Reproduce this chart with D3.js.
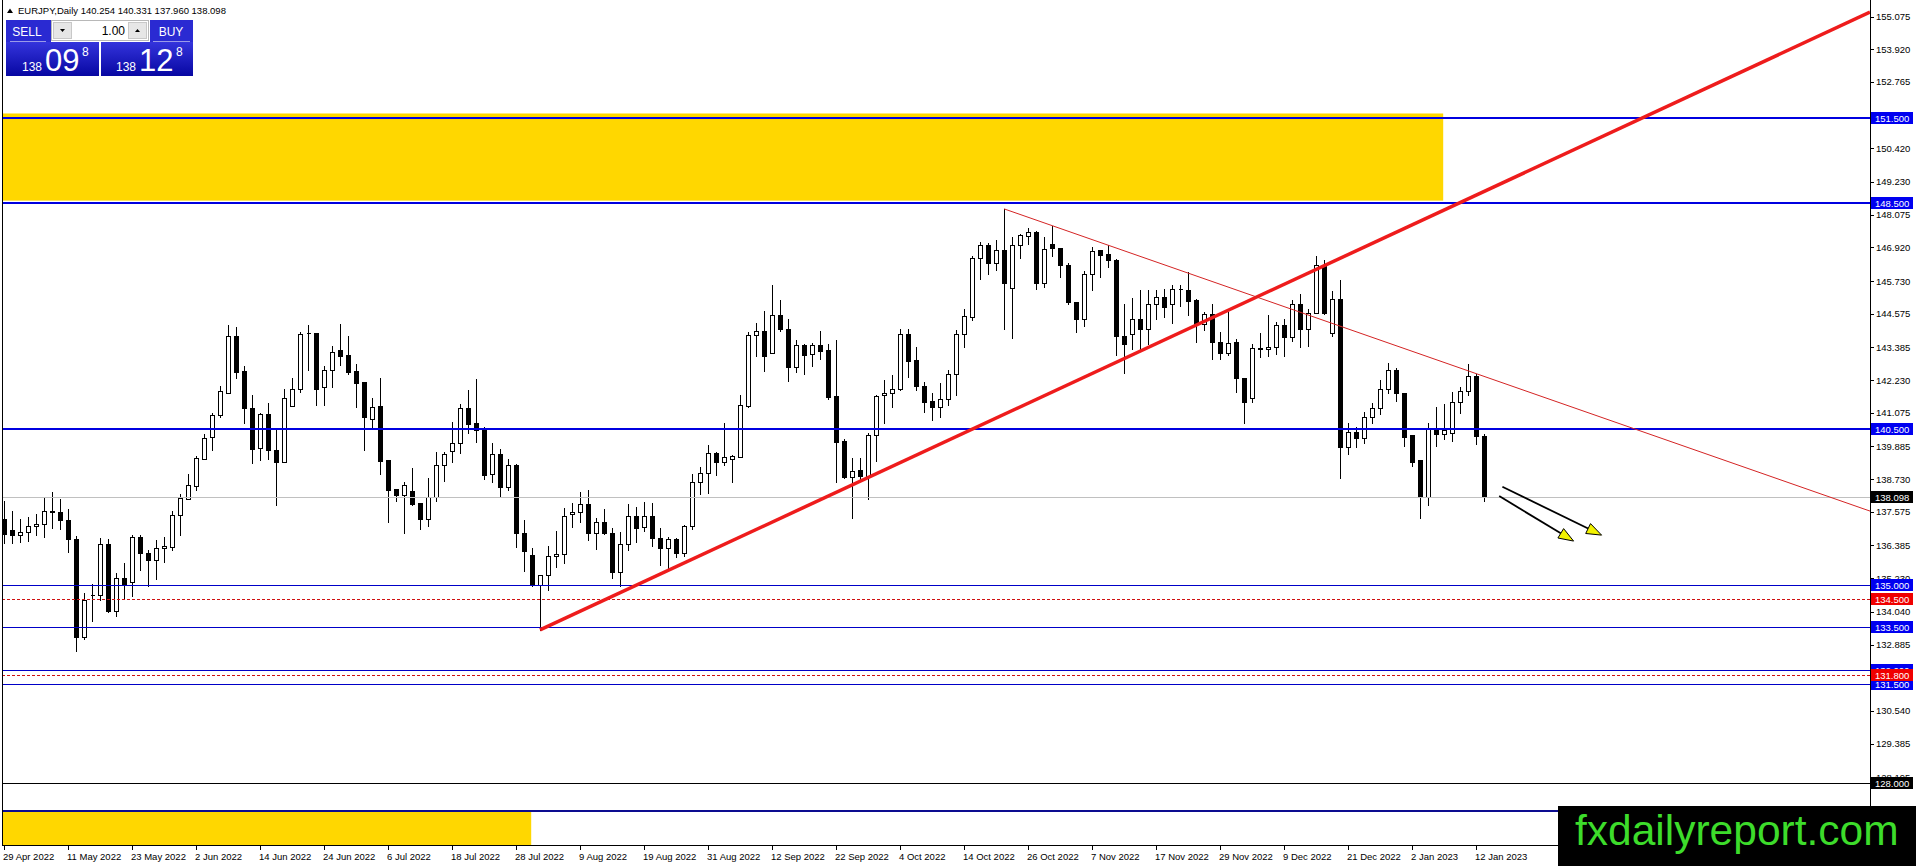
<!DOCTYPE html>
<html>
<head>
<meta charset="utf-8">
<script src="https://cdn.jsdelivr.net/npm/d3@7"></script>
<style>
  html, body { margin: 0; padding: 0; background: #fff; }
  svg { display: block; }
  text { font-family: "Liberation Sans", Arial, sans-serif; }
</style>
</head>
<body>
<svg id="chart" width="1916" height="866"></svg>
<script>
'use strict';

// EURJPY daily bars, 29 Apr 2022 .. 13 Jan 2023
const opens = [
  137.32, 136.94, 136.74, 136.85, 137.06, 137.14, 137.60, 137.57, 137.29, 136.61,
  133.14, 134.64, 134.65, 136.43, 134.06, 135.24, 135.08, 136.68, 136.12, 135.86,
  136.28, 136.32, 137.46, 138.04, 138.50, 139.45, 140.21, 140.98, 141.79, 143.78,
  142.54, 141.24, 139.82, 141.02, 139.75, 139.35, 141.33, 141.91, 143.91, 143.91,
  141.97, 142.57, 143.29, 143.11, 142.54, 142.16, 140.84, 141.31, 139.41, 138.37,
  138.16, 138.30, 137.88, 137.32, 138.09, 139.22, 139.74, 140.00, 141.26, 140.70,
  140.50, 138.90, 139.62, 138.44, 139.23, 136.82, 136.06, 134.99, 135.35, 136.00,
  136.08, 137.50, 137.56, 137.84, 136.82, 137.23, 136.82, 135.44, 136.43, 137.41,
  137.02, 137.41, 136.65, 136.29, 136.61, 136.12, 137.09, 138.62, 138.94, 139.64,
  139.35, 139.43, 139.52, 141.32, 143.81, 143.97, 143.17, 144.52, 144.05, 142.70,
  143.46, 143.14, 143.46, 143.29, 141.66, 140.09, 138.80, 139.05, 138.84, 140.29,
  141.69, 141.76, 141.91, 143.84, 142.93, 142.03, 141.48, 141.29, 141.55, 142.46,
  143.84, 144.46, 146.55, 147.02, 146.38, 146.83, 145.49, 147.01, 147.33, 147.46,
  145.66, 147.05, 146.90, 146.31, 144.99, 144.40, 145.96, 146.81, 146.67, 146.48,
  143.79, 143.84, 144.38, 144.05, 144.90, 145.17, 144.91, 145.46, 145.42, 145.05,
  144.20, 144.58, 143.56, 143.20, 143.56, 142.29, 141.61, 143.38, 143.34, 143.40,
  144.19, 143.76, 144.93, 144.05, 144.61, 146.31, 143.91, 145.11, 139.85, 140.38,
  140.17, 140.93, 141.23, 141.93, 142.60, 141.76, 140.29, 139.41, 138.11, 140.55,
  140.31, 140.35, 141.44, 141.85, 142.39, 140.254
];
const highs = [
  137.94, 137.59, 137.32, 137.39, 137.50, 138.09, 138.27, 138.02, 137.68, 136.73,
  134.71, 135.02, 136.65, 136.61, 135.41, 135.76, 136.76, 136.74, 136.21, 136.59,
  136.68, 137.60, 138.21, 138.91, 139.56, 140.31, 141.08, 142.02, 144.17, 144.11,
  142.72, 141.70, 141.05, 141.41, 140.46, 141.91, 142.29, 143.93, 144.17, 143.91,
  142.72, 143.43, 144.20, 143.78, 142.79, 142.16, 141.58, 142.29, 139.41, 138.37,
  138.61, 139.13, 137.88, 138.76, 139.68, 139.68, 140.74, 141.37, 141.88, 142.26,
  140.56, 140.00, 139.78, 139.44, 139.27, 137.29, 136.29, 135.35, 136.38, 136.88,
  137.70, 137.88, 138.29, 138.35, 137.35, 137.67, 137.00, 136.85, 137.84, 137.76,
  137.92, 137.88, 137.00, 136.70, 136.65, 137.12, 138.91, 139.15, 139.94, 139.67,
  140.70, 139.58, 141.70, 143.93, 144.25, 144.67, 145.58, 145.07, 144.40, 143.64,
  143.50, 143.54, 143.96, 143.52, 143.64, 140.15, 139.47, 139.47, 140.35, 141.70,
  142.23, 142.40, 144.03, 144.03, 143.40, 142.15, 141.78, 142.13, 142.58, 143.99,
  144.75, 146.63, 147.10, 147.08, 147.19, 148.28, 147.30, 147.40, 147.61, 147.49,
  147.28, 147.66, 146.90, 146.38, 144.99, 146.07, 146.93, 146.83, 146.99, 146.52,
  144.93, 145.14, 145.40, 145.42, 145.40, 145.46, 145.58, 145.58, 146.05, 145.11,
  144.64, 144.93, 143.93, 144.64, 143.67, 142.29, 143.52, 143.90, 144.52, 144.28,
  144.37, 145.05, 145.28, 144.73, 146.63, 146.48, 145.38, 145.75, 140.70, 140.58,
  141.11, 141.43, 142.23, 142.85, 142.64, 141.79, 140.29, 139.41, 140.72, 141.29,
  141.38, 141.82, 141.97, 142.78, 142.44, 140.331
];
const lows = [
  136.47, 136.47, 136.50, 136.56, 136.76, 136.70, 137.01, 136.98, 136.14, 132.65,
  133.08, 133.71, 134.47, 134.03, 133.88, 134.53, 134.61, 135.51, 134.97, 135.20,
  135.80, 136.21, 136.74, 138.02, 138.33, 139.43, 139.76, 140.91, 141.79, 142.29,
  140.72, 139.31, 139.41, 139.45, 137.80, 139.35, 141.33, 141.82, 142.60, 141.35,
  141.35, 141.97, 142.76, 142.44, 141.29, 139.76, 140.52, 138.91, 137.21, 137.94,
  136.82, 137.82, 136.96, 137.06, 137.94, 138.68, 139.33, 139.64, 140.37, 140.05,
  138.73, 138.64, 138.08, 138.35, 136.33, 135.49, 134.97, 133.40, 134.82, 135.62,
  135.76, 137.03, 137.21, 136.59, 136.26, 136.80, 135.24, 134.94, 136.23, 136.49,
  136.90, 136.38, 135.71, 135.53, 135.98, 136.02, 136.96, 138.20, 138.23, 138.88,
  139.23, 138.62, 139.50, 141.29, 143.07, 142.56, 143.17, 143.97, 142.20, 142.50,
  142.43, 142.72, 142.96, 141.55, 138.64, 138.76, 137.35, 138.73, 138.02, 139.38,
  140.72, 141.29, 141.87, 142.35, 141.87, 141.11, 140.82, 140.93, 141.35, 141.70,
  143.40, 144.34, 145.81, 145.99, 146.11, 144.05, 143.70, 146.55, 147.05, 145.46,
  145.52, 146.61, 145.87, 144.93, 143.93, 144.14, 145.42, 145.87, 146.22, 143.11,
  142.49, 143.34, 143.34, 143.52, 144.37, 144.46, 144.25, 144.84, 144.52, 143.58,
  143.99, 142.96, 142.96, 143.11, 141.82, 140.70, 141.46, 143.03, 143.09, 143.14,
  143.07, 143.60, 143.40, 143.43, 144.60, 144.58, 143.79, 138.76, 139.61, 139.88,
  140.00, 140.72, 141.03, 141.76, 141.50, 139.90, 139.20, 137.35, 137.82, 139.91,
  140.15, 140.09, 141.05, 141.70, 139.96, 137.960
];
const closes = [
  136.80, 136.74, 136.86, 137.08, 137.14, 137.61, 137.57, 137.27, 136.61, 133.14,
  134.47, 134.62, 136.43, 134.06, 135.24, 135.04, 136.67, 136.12, 135.86, 136.29,
  136.38, 137.46, 138.06, 138.51, 139.47, 140.18, 140.98, 141.84, 143.78, 142.52,
  141.25, 139.81, 141.02, 139.76, 139.35, 141.58, 141.92, 143.87, 143.88, 141.92,
  142.58, 143.23, 143.09, 142.52, 142.13, 140.93, 141.29, 139.38, 138.33, 138.16,
  138.51, 137.86, 137.32, 138.09, 139.22, 139.61, 140.00, 141.26, 140.69, 140.46,
  138.86, 139.61, 138.44, 139.23, 136.82, 136.18, 134.99, 135.33, 136.00, 136.08,
  137.41, 137.57, 137.84, 136.82, 137.23, 136.82, 135.44, 136.43, 137.41, 136.99,
  137.41, 136.65, 136.29, 136.61, 136.12, 137.09, 138.62, 138.94, 139.64, 139.35,
  139.50, 139.55, 141.35, 143.81, 143.97, 143.09, 144.52, 144.05, 142.70, 143.46,
  143.11, 143.46, 143.25, 141.62, 140.05, 138.80, 139.03, 138.84, 140.29, 141.68,
  141.79, 141.93, 143.84, 142.91, 142.03, 141.46, 141.29, 141.55, 142.46, 143.84,
  144.50, 146.55, 147.02, 146.38, 146.83, 145.66, 147.01, 147.34, 147.46, 145.66,
  146.87, 146.89, 146.31, 144.99, 144.40, 145.99, 146.79, 146.66, 146.46, 143.79,
  143.52, 144.37, 144.05, 144.90, 145.17, 144.81, 145.46, 145.44, 145.02, 144.20,
  144.58, 143.56, 143.17, 143.54, 142.29, 141.46, 143.38, 143.34, 143.40, 144.19,
  143.76, 144.93, 144.05, 144.61, 146.31, 144.60, 145.11, 139.85, 140.38, 140.17,
  140.93, 141.23, 141.93, 142.60, 141.76, 140.23, 139.35, 138.11, 140.55, 140.31,
  140.46, 141.44, 141.85, 142.39, 140.25, 138.098
];

// time axis labels and the bar they sit on
const dateLabels = [
  '29 Apr 2022', '11 May 2022', '23 May 2022', '2 Jun 2022', '14 Jun 2022', '24 Jun 2022',
  '6 Jul 2022', '18 Jul 2022', '28 Jul 2022', '9 Aug 2022', '19 Aug 2022', '31 Aug 2022',
  '12 Sep 2022', '22 Sep 2022', '4 Oct 2022', '14 Oct 2022', '26 Oct 2022', '7 Nov 2022',
  '17 Nov 2022', '29 Nov 2022', '9 Dec 2022', '21 Dec 2022', '2 Jan 2023', '12 Jan 2023'
];
const dateTickBars = [0, 8, 16, 24, 32, 40, 48, 56, 64, 72, 80, 88, 96, 104, 112, 120,
  128, 136, 144, 152, 160, 168, 176, 184];

// price axis tick labels
const priceTicks = [155.075, 153.920, 152.765, 150.420, 149.230, 148.075, 146.920, 145.730,
  144.575, 143.385, 142.230, 141.075, 139.885, 138.730, 137.575, 136.385, 135.230, 134.040,
  132.885, 130.540, 129.385, 128.195];

// horizontal levels
const majorBlueLevels = [151.5, 148.5, 140.5];
const minorBlueLevels = [135.0, 133.5, 132.0, 131.5];
const redLevels = [134.5, 131.8];
const blackLevels = [128.0];
const bottomBlueLevel = 127.0;
const bidPrice = 138.098;

// shaded zones: [bar from, bar to] and [price top, price bottom]
const zoneBars = [[-0.25, 179.9], [-0.25, 65.9]];
const zonePrices = [[151.65, 148.57], [127.03, 125.80]];

// trend lines: [bar a, bar b] and [price a, price b]
const trendBars = [[67, 233.25], [125, 233.25]];
const trendPrices = [[133.40, 155.23], [148.28, 137.60]];

// projection arrows
const arrowBars = [[187.3, 199.7], [186.9, 196.2]];
const arrowPrices = [[138.46, 136.75], [138.13, 136.54]];

const quote = ['140.254', '140.331', '137.960', '138.098'];

// ---------------------------------------------------------------
const W = 1916, H = 866;
const plotL = 2, plotR = 1870, plotT = 0, plotB = 845;
const FONT = '"Liberation Sans", Arial, sans-serif';

const svg = d3.select('#chart');

const x = d3.scaleLinear().domain([-0.25, 233.25]).range([plotL, plotR]);
const y = d3.scaleLinear().domain([125.80, 155.66]).range([plotB, plotT]);

const crisp = v => Math.round(v) + 0.5;

svg.append('rect').attr('width', W).attr('height', H).attr('fill', '#fff');

svg.append('defs').append('clipPath').attr('id', 'plotclip')
  .append('rect')
  .attr('x', plotL).attr('y', plotT)
  .attr('width', plotR - plotL).attr('height', plotB - plotT);

const plot = svg.append('g').attr('clip-path', 'url(#plotclip)');

// zones (background)
plot.selectAll('rect.zone')
  .data(zoneBars)
  .enter().append('rect')
  .attr('class', 'zone')
  .attr('x', d => x(d[0]))
  .attr('width', d => x(d[1]) - x(d[0]))
  .attr('y', (d, i) => y(zonePrices[i][0]))
  .attr('height', (d, i) => y(zonePrices[i][1]) - y(zonePrices[i][0]))
  .attr('fill', '#ffd700');

// candles
const bars = d3.range(opens.length);
const candles = plot.append('g').attr('shape-rendering', 'crispEdges');

candles.selectAll('line.wick')
  .data(bars)
  .enter().append('line')
  .attr('class', 'wick')
  .attr('x1', i => Math.round(x(i)) + 0.5)
  .attr('x2', i => Math.round(x(i)) + 0.5)
  .attr('y1', i => Math.round(y(highs[i])))
  .attr('y2', i => Math.round(y(lows[i])) + 1)
  .attr('stroke', '#000')
  .attr('stroke-width', 1);

candles.selectAll('path.body')
  .data(bars)
  .enter().append('path')
  .attr('class', 'body')
  .attr('d', i => {
    const cx = Math.round(x(i));
    const top = crisp(y(Math.max(opens[i], closes[i])));
    const bot = crisp(y(Math.min(opens[i], closes[i])));
    const x0 = cx - 1.5, x1 = cx + 2.5;
    return 'M' + x0 + ',' + top + 'H' + x1 + 'V' + bot + 'H' + x0 + 'Z';
  })
  .attr('fill', i => closes[i] >= opens[i] ? '#fff' : '#000')
  .attr('stroke', '#000')
  .attr('stroke-width', 1);

// horizontal lines
function hline(level, color, width, dash) {
  const yy = width % 2 ? crisp(y(level)) : Math.round(y(level));
  plot.append('line')
    .attr('x1', plotL).attr('x2', plotR)
    .attr('y1', yy).attr('y2', yy)
    .attr('stroke', color)
    .attr('stroke-width', width)
    .attr('stroke-dasharray', dash || null)
    .attr('shape-rendering', 'crispEdges');
}
hline(bidPrice, '#c0c0c0', 1);
majorBlueLevels.forEach(l => hline(l, '#0000e0', 2));
minorBlueLevels.forEach(l => hline(l, '#0000c8', 1));
redLevels.forEach(l => hline(l, '#d01010', 1, '3,2'));
blackLevels.forEach(l => hline(l, '#000', 1));
hline(bottomBlueLevel, '#0c0c90', 2);

// trend lines
plot.selectAll('line.trend')
  .data(trendBars)
  .enter().append('line')
  .attr('class', 'trend')
  .attr('x1', d => x(d[0]))
  .attr('x2', d => x(d[1]))
  .attr('y1', (d, i) => y(trendPrices[i][0]))
  .attr('y2', (d, i) => y(trendPrices[i][1]))
  .attr('stroke', (d, i) => i === 0 ? '#ee1c1c' : '#d42424')
  .attr('stroke-width', (d, i) => i === 0 ? 3.5 : 1);

// arrows
const HEAD_LEN = 15, HEAD_HALF = 5.5;
arrowBars.forEach((b, i) => {
  const x0 = x(b[0]), y0 = y(arrowPrices[i][0]);
  const x1 = x(b[1]), y1 = y(arrowPrices[i][1]);
  const len = Math.hypot(x1 - x0, y1 - y0);
  const ux = (x1 - x0) / len, uy = (y1 - y0) / len;
  const bx = x1 - ux * HEAD_LEN, by = y1 - uy * HEAD_LEN;
  plot.append('line')
    .attr('x1', x0).attr('y1', y0).attr('x2', bx).attr('y2', by)
    .attr('stroke', '#000').attr('stroke-width', 1.8);
  plot.append('path')
    .attr('d', 'M' + x1 + ',' + y1 +
      'L' + (bx - uy * HEAD_HALF) + ',' + (by + ux * HEAD_HALF) +
      'L' + (bx + uy * HEAD_HALF) + ',' + (by - ux * HEAD_HALF) + 'Z')
    .attr('fill', '#f2f200')
    .attr('stroke', '#000')
    .attr('stroke-width', 1)
    .attr('stroke-linejoin', 'miter');
});

// frame
const frame = svg.append('g').attr('shape-rendering', 'crispEdges').attr('stroke', '#000');
frame.append('line').attr('x1', 2.5).attr('x2', 2.5).attr('y1', 0).attr('y2', plotB + 1);
frame.append('line').attr('x1', plotR + 0.5).attr('x2', plotR + 0.5).attr('y1', 0).attr('y2', H);
frame.append('line').attr('x1', 2).attr('x2', plotR + 1).attr('y1', plotB + 0.5).attr('y2', plotB + 0.5);

// time axis
const timeAxis = svg.append('g');
timeAxis.selectAll('line')
  .data(dateTickBars)
  .enter().append('line')
  .attr('x1', d => Math.round(x(d)) + 0.5)
  .attr('x2', d => Math.round(x(d)) + 0.5)
  .attr('y1', plotB + 1).attr('y2', plotB + 5)
  .attr('stroke', '#000')
  .attr('shape-rendering', 'crispEdges');
timeAxis.selectAll('text')
  .data(dateTickBars)
  .enter().append('text')
  .attr('x', d => Math.round(x(d)) - 1)
  .attr('y', 860)
  .attr('font-size', '9.5px')
  .attr('fill', '#000')
  .text((d, i) => dateLabels[i]);

// price axis
const priceAxis = svg.append('g');
priceAxis.selectAll('line')
  .data(priceTicks)
  .enter().append('line')
  .attr('x1', plotR + 1).attr('x2', plotR + 4)
  .attr('y1', d => crisp(y(d))).attr('y2', d => crisp(y(d)))
  .attr('stroke', '#000')
  .attr('shape-rendering', 'crispEdges');
priceAxis.selectAll('text')
  .data(priceTicks)
  .enter().append('text')
  .attr('x', plotR + 6)
  .attr('y', d => y(d) + 3.5)
  .attr('font-size', '9.5px')
  .attr('fill', '#000')
  .text(d => d.toFixed(3));

function levelTag(level, bg, fg) {
  const yy = Math.round(y(level));
  svg.append('rect')
    .attr('x', plotR + 1).attr('y', yy - 6)
    .attr('width', 42).attr('height', 12)
    .attr('fill', bg);
  svg.append('text')
    .attr('x', plotR + 5).attr('y', yy + 4)
    .attr('font-size', '9.5px')
    .attr('fill', fg)
    .text(level.toFixed(3));
}
[151.5, 148.5, 140.5, 135.0, 133.5, 132.0, 131.5].forEach(l => levelTag(l, '#0000f0', '#fff'));
redLevels.forEach(l => levelTag(l, '#f00000', '#fff'));
blackLevels.forEach(l => levelTag(l, '#000', '#fff'));
levelTag(bidPrice, '#000', '#fff');

// header line
svg.append('path').attr('d', 'M7,13 L10,8.5 L13,13 Z').attr('fill', '#000');
svg.append('text')
  .attr('x', 18).attr('y', 14)
  .attr('font-size', '9.5px')
  .attr('fill', '#000')
  .text('EURJPY,Daily  ' + quote.join(' '));

// one-click trading panel
const defs = svg.select('defs');
const grad = defs.append('linearGradient').attr('id', 'panelgrad')
  .attr('x1', 0).attr('y1', 0).attr('x2', 0).attr('y2', 1);
grad.append('stop').attr('offset', '0%').attr('stop-color', '#3434dc');
grad.append('stop').attr('offset', '100%').attr('stop-color', '#0707a2');

const panel = svg.append('g');
panel.append('rect').attr('x', 6).attr('y', 20).attr('width', 45).attr('height', 23).attr('fill', '#2a2ad2');
panel.append('rect').attr('x', 150).attr('y', 20).attr('width', 43).attr('height', 23).attr('fill', '#2a2ad2');
panel.append('rect').attr('x', 6).attr('y', 42).attr('width', 93).attr('height', 34).attr('fill', 'url(#panelgrad)');
panel.append('rect').attr('x', 101).attr('y', 42).attr('width', 92).attr('height', 34).attr('fill', 'url(#panelgrad)');
panel.append('line').attr('x1', 10).attr('x2', 46).attr('y1', 41.5).attr('y2', 41.5).attr('stroke', '#9a9ae8');
panel.append('line').attr('x1', 153).attr('x2', 190).attr('y1', 41.5).attr('y2', 41.5).attr('stroke', '#9a9ae8');

panel.append('rect').attr('x', 51.5).attr('y', 20.5).attr('width', 97).attr('height', 20)
  .attr('fill', '#fff').attr('stroke', '#b8b8b8');
panel.append('rect').attr('x', 53.5).attr('y', 22.5).attr('width', 18).attr('height', 16)
  .attr('fill', '#e6e6e6').attr('stroke', '#c8c8c8');
panel.append('rect').attr('x', 128.5).attr('y', 22.5).attr('width', 18).attr('height', 16)
  .attr('fill', '#e6e6e6').attr('stroke', '#c8c8c8');
panel.append('path').attr('d', 'M60,29 L65,29 L62.5,32 Z').attr('fill', '#000');
panel.append('path').attr('d', 'M135,32 L140,32 L137.5,29 Z').attr('fill', '#000');
panel.append('text').attr('x', 125).attr('y', 35).attr('text-anchor', 'end')
  .attr('font-size', '12px').attr('fill', '#000').text('1.00');

panel.append('text').attr('x', 27).attr('y', 36).attr('text-anchor', 'middle')
  .attr('font-size', '12px').attr('fill', '#fff').text('SELL');
panel.append('text').attr('x', 171).attr('y', 36).attr('text-anchor', 'middle')
  .attr('font-size', '12px').attr('fill', '#fff').text('BUY');

function priceBox(x0, big, small, pip) {
  panel.append('text').attr('x', x0).attr('y', 71)
    .attr('font-size', '12px').attr('fill', '#fff').text(small);
  panel.append('text').attr('x', x0 + 23).attr('y', 71)
    .attr('font-size', '31px').attr('fill', '#fff').text(big);
  panel.append('text').attr('x', x0 + 60).attr('y', 56)
    .attr('font-size', '12px').attr('fill', '#fff').text(pip);
}
priceBox(22, '09', '138', '8');
priceBox(116, '12', '138', '8');

// watermark banner
svg.append('rect').attr('x', 1558).attr('y', 806).attr('width', W - 1558).attr('height', H - 806)
  .attr('fill', '#000');
svg.append('text')
  .attr('x', 1575).attr('y', 845)
  .attr('font-size', '42.5px')
  .attr('fill', '#3ddc2b')
  .text('fxdailyreport.com');
</script>
</body>
</html>
